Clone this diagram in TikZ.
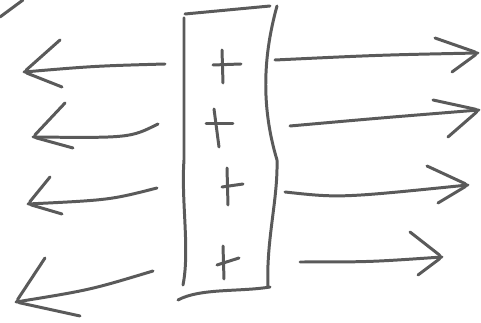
\documentclass[tikz,border=0pt]{standalone}
\usepackage{xcolor}
\usepackage{tikz}
\usetikzlibrary{calc}
\definecolor{pencil}{HTML}{5A5A5A}
\tikzset{
  pen/.style={draw=pencil,line width=1.7pt,line cap=round,line join=round},
  head/.style={pen,rounded corners=2pt},
}

\begin{document}
\begin{tikzpicture}[x=0.02cm,y=-0.02cm]
    \useasboundingbox (0,0) rectangle (481,323);
    % stray stroke in the corner
    \draw[pen] (0,17) -- (23,0);
    % the column
    \draw[pen] (185,14) -- (270,6);
    \draw[pen] (184,18) -- (184,160) .. controls (181,200) and (190,250) .. (183,285);
    \draw[pen] (277,6) .. controls (262,60) and (262,110) .. (277,160)
      .. controls (278,200) and (266,240) .. (268,287);
    \draw[pen] (178,300) .. controls (200,288) and (240,292) .. (270,287);
    % plus signs
    \foreach \vt/\vb/\hl/\hr in {
      {(222,50)}/{(223,83)}/{(213,65)}/{(241,64)},
      {(214,109)}/{(219,147)}/{(206,124)}/{(233,124)},
      {(227,168)}/{(228,205)}/{(222,187)}/{(243,184)},
      {(223,246)}/{(224,279)}/{(217,265)}/{(239,258)}} {
      \draw[pen] \vt -- \vb;
      \draw[pen] \hl -- \hr;
    }
    % arrows going out to the left
    \foreach \s/\m/\t/\u/\l in {
      {(165,64)}/{(95,66)}/{(24,72)}/{(60,40)}/{(62,87)},
      {(158,124)}/{(130,138)}/{(33,137)}/{(65,103)}/{(73,148)},
      {(157,188)}/{(110,200)}/{(28,204)}/{(50,177)}/{(62,214)},
      {(153,271)}/{(90,290)}/{(16,302)}/{(45,258)}/{(80,316)}} {
      \draw[pen] \s .. controls \m .. \t;
      \draw[head] \u -- \t -- \l;
    }
    % arrows going out to the right
    \foreach \s/\m/\t/\u/\l in {
      {(275,60)}/{(380,55)}/{(478,53)}/{(435,38)}/{(452,72)},
      {(290,126)}/{(380,118)}/{(479,110)}/{(433,100)}/{(448,137)},
      {(285,192)}/{(340,198)}/{(468,185)}/{(427,166)}/{(438,203)},
      {(300,262)}/{(370,262)}/{(442,257)}/{(410,232)}/{(418,275)}} {
      \draw[pen] \s .. controls \m .. \t;
      \draw[head] \u -- \t -- \l;
    }
\end{tikzpicture}
\end{document}
